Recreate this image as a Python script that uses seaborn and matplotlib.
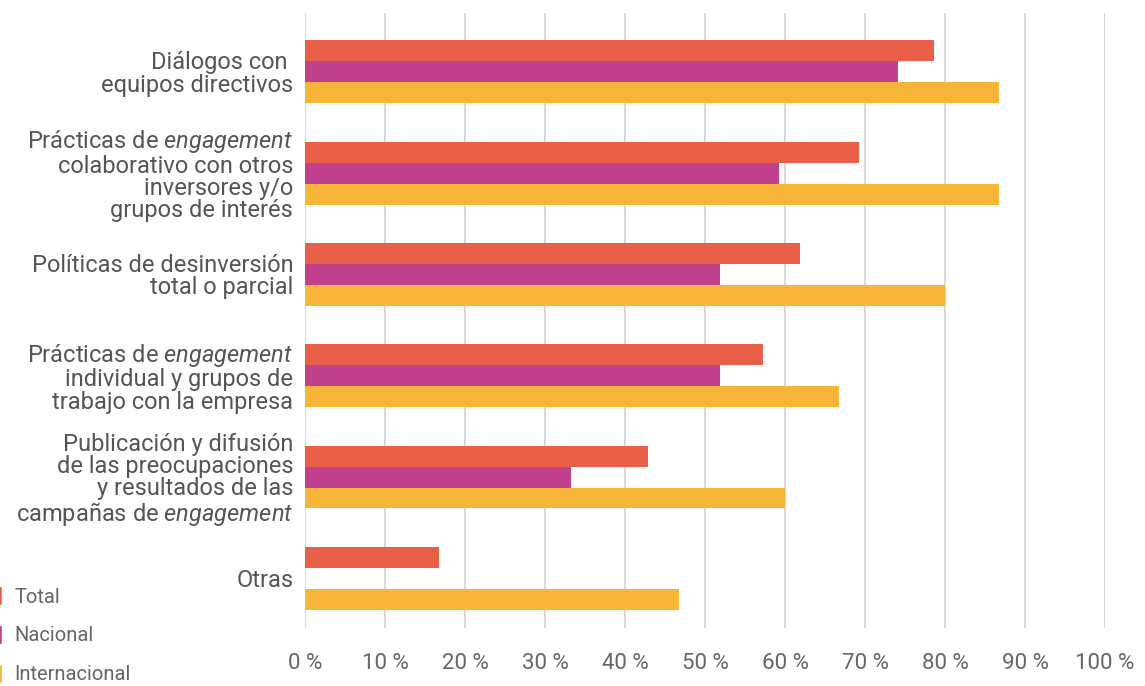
import numpy as np
import pandas as pd
import seaborn as sns
import matplotlib.pyplot as plt
from matplotlib.patches import Patch

categories = [
    "Diálogos con \nequipos directivos",
    "Prácticas de $\\mathit{engagement}$\ncolaborativo con otros\ninversores y/o\ngrupos de interés",
    "Políticas de desinversión\ntotal o parcial",
    "Prácticas de $\\mathit{engagement}$\nindividual y grupos de\ntrabajo con la empresa",
    "Publicación y difusión\nde las preocupaciones\ny resultados de las\ncampañas de $\\mathit{engagement}$",
    "Otras",
]
series = ["Total", "Nacional", "Internacional"]
total = [78.6, 69.2, 61.9, 57.3, 42.9, 16.7]
nacional = [74.1, 59.3, 51.9, 51.9, 33.3, 0]
internacional = [86.7, 86.7, 80.0, 66.7, 60.0, 46.7]
xticks = [0, 10, 20, 30, 40, 50, 60, 70, 80, 90, 100]

colors = ["#E95F47", "#C1418F", "#F7B538"]

df = pd.DataFrame({
    "categoria": categories * 3,
    "serie": np.repeat(series, len(categories)),
    "valor": total + nacional + internacional,
})

sns.set_style("white")
plt.rcParams["font.family"] = ["Roboto", "DejaVu Sans"]
plt.rcParams["mathtext.fontset"] = "custom"
plt.rcParams["mathtext.rm"] = "Roboto"
plt.rcParams["mathtext.it"] = "Roboto:italic"

fig = plt.figure(figsize=(11.45, 6.86), dpi=100)
ax = fig.add_axes([0.2664, 0.0845, 0.6987, 0.8965])

sns.barplot(data=df, y="categoria", x="valor", hue="serie", order=categories,
            hue_order=series, palette=colors, orient="h", width=0.62,
            saturation=1, linewidth=0, errorbar=None, legend=False, ax=ax)

ax.set_xlim(0, 100)
ax.set_ylim(5.49, -0.58)
ax.set_xticks(xticks)
ax.set_xticklabels([f"{v} %" for v in xticks])
ax.xaxis.grid(True, color="#d9d9d9", linewidth=1.5)
ax.set_axisbelow(True)
sns.despine(ax=ax, left=True, bottom=True)
ax.tick_params(axis="both", length=0)
ax.tick_params(axis="y", labelsize=17, labelcolor="#555555", pad=8.5)
ax.tick_params(axis="x", labelsize=16, labelcolor="#666666", pad=18)
for lbl in ax.get_yticklabels():
    lbl.set_linespacing(0.96)
ax.set_xlabel("")
ax.set_ylabel("")

handles = [Patch(facecolor=c, label=s) for c, s in zip(colors, series)]
fig.legend(handles=handles, loc="upper left", bbox_to_anchor=(-0.014, 0.157),
           frameon=False, fontsize=14.5, labelcolor="#666666",
           handlelength=0.5, handleheight=1.05, handletextpad=0.6,
           labelspacing=0.92, borderaxespad=0)

fig.savefig("out.png", dpi=100)
